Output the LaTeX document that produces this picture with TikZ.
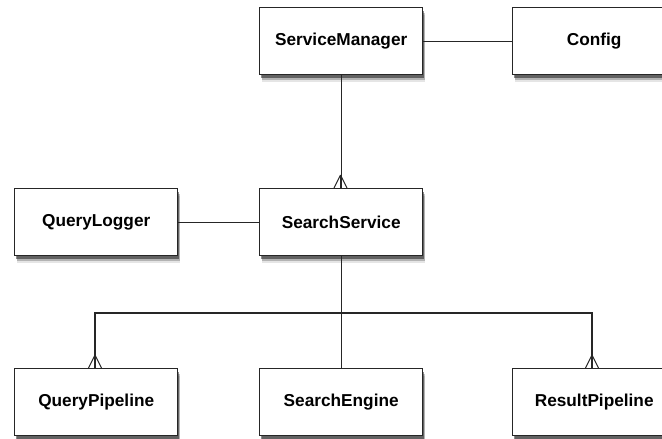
\documentclass[tikz,border=0pt]{standalone}
\usepackage{fontspec}
\setmainfont{Liberation Sans}
\usetikzlibrary{shadows}
\begin{document}
\begin{tikzpicture}[x=1bp,y=-1bp,
  box/.style={draw=black!85, line width=1.4bp, fill=white, minimum width=163bp, minimum height=67bp,
    anchor=north west, inner sep=0pt, font=\bfseries\fontsize{17.3}{20}\selectfont,
    general shadow={shadow xshift=2.5bp, shadow yshift=-7bp, opacity=0.10, fill=black},
    general shadow={shadow xshift=2bp, shadow yshift=-5bp, opacity=0.22, fill=black},
    general shadow={shadow xshift=1.2bp, shadow yshift=-3bp, opacity=0.45, fill=black}},
  link/.style={draw=black!85, line width=1.1bp},
  foot/.style={draw=black!85, line width=1bp}]
\useasboundingbox (0,0) rectangle (662,439);
\clip (0,0) rectangle (662,439);
% boxes
\node[box] (sm) at (259,7) {ServiceManager};
\node[box] (cfg) at (512,7) {Config};
\node[box] (ss) at (259,188) {SearchService};
\node[box] (ql) at (14,188) {QueryLogger};
\node[box] (qp) at (14,368) {QueryPipeline};
\node[box] (se) at (259,368) {SearchEngine};
\node[box] (rp) at (512,368) {ResultPipeline};
% plain links
\draw[link] (sm.east) -- (cfg.west);
\draw[link] (ql.east) -- (ss.west);
\draw[link] (sm.south) -- (ss.north);
\draw[link] (ss.south) -- (se.north);
% bus to the two pipelines
\coordinate (busl) at (95,313);
\coordinate (busr) at (592,313);
\draw[link] (busl |- qp.north) -- (busl) -- (busr) -- (busr |- rp.north);
% crow's feet
\foreach \n/\x in {ss/340.5, qp/95, rp/592}{
  \coordinate (fx) at (\x,0);
  \draw[foot] (fx |- \n.north) ++(0,-13) coordinate (t)
    (t) -- ++(-6.5,13) (t) -- ++(6.5,13) (t) -- ++(0,13);
}
\end{tikzpicture}
\end{document}
